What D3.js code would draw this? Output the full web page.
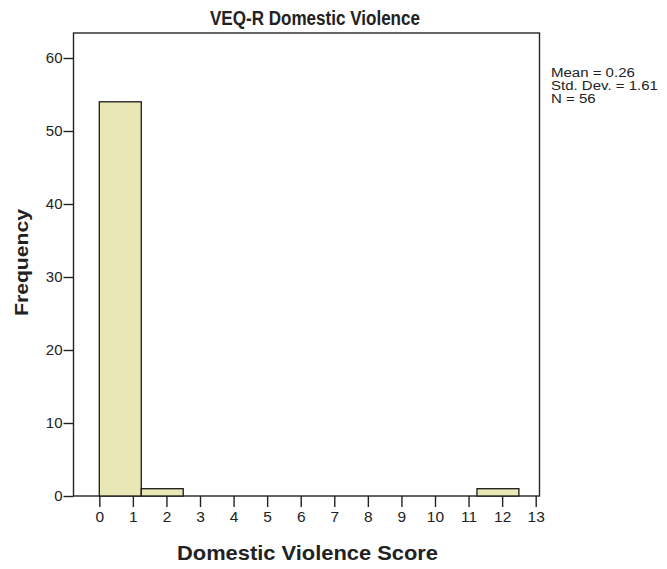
<!DOCTYPE html>
<html>
<head>
<meta charset="utf-8">
<script src="https://cdn.jsdelivr.net/npm/d3@7"></script>
<style>
  body { margin: 0; background: #fff; }
  text { font-family: Arial, "Liberation Sans", sans-serif; fill: #222; }
</style>
</head>
<body>
<script>
// histogram bins (edges) and counts
const binStart = [0, 1.25, 11.25]
const binEnd = [1.25, 2.5, 12.5]
const counts = [54, 1, 1]
const xTicks = d3.range(0, 14)
const yTicks = [0, 10, 20, 30, 40, 50, 60]
const stats = ["Mean = 0.26", "Std. Dev. = 1.61", "N = 56"]

const width = 667
const height = 569
const frame = { left: 73.5, top: 33, right: 539.5, bottom: 496 }

let svg = d3.select("body").append("svg")
    .attr("width", width)
    .attr("height", height)

let x = d3.scaleLinear().domain([0, 13]).range([99.3, 535.7])
let y = d3.scaleLinear().domain([0, 60]).range([frame.bottom, 58])

// frame
svg.append("rect")
    .attr("x", frame.left).attr("y", frame.top)
    .attr("width", frame.right - frame.left)
    .attr("height", frame.bottom - frame.top)
    .attr("fill", "none")
    .attr("stroke", "#2a2228")
    .attr("stroke-width", 1.4)

// bars
svg.append("g").selectAll("rect")
    .data(counts).enter()
    .append("rect")
        .attr("x", (d, i) => x(binStart[i]))
        .attr("width", (d, i) => x(binEnd[i]) - x(binStart[i]))
        .attr("y", d => y(d))
        .attr("height", d => y(0) - y(d))
        .attr("fill", "#eae7b6")
        .attr("stroke", "#1a1a1a")
        .attr("stroke-width", 1.3)

// y axis
let yAxis = svg.append("g")
    .attr("transform", "translate(" + frame.left + ",0)")
    .call(d3.axisLeft(y).tickValues(yTicks).tickSize(10).tickPadding(1))
yAxis.select(".domain").remove()
yAxis.selectAll("line").attr("stroke", "#222").attr("stroke-width", 1.4)
yAxis.selectAll("text").style("font-size", "15px").attr("fill", "#222")

// x axis
let xAxis = svg.append("g")
    .attr("transform", "translate(0," + frame.bottom + ")")
    .call(d3.axisBottom(x).tickValues(xTicks).tickSize(11).tickPadding(4))
xAxis.select(".domain").remove()
xAxis.selectAll("line").attr("stroke", "#222").attr("stroke-width", 1.4)
xAxis.selectAll("text").style("font-size", "15.5px").attr("fill", "#222")

// titles
svg.append("text")
    .attr("x", 210).attr("y", 25)
    .attr("textLength", 210)
    .attr("lengthAdjust", "spacingAndGlyphs")
    .style("font-size", "20px").style("font-weight", "bold")
    .text("VEQ-R Domestic Violence")

svg.append("text")
    .attr("x", 177).attr("y", 560)
    .attr("textLength", 261)
    .attr("lengthAdjust", "spacingAndGlyphs")
    .style("font-size", "20.5px").style("font-weight", "bold")
    .text("Domestic Violence Score")

svg.append("text")
    .attr("transform", "translate(28,316) rotate(-90)")
    .attr("textLength", 107)
    .attr("lengthAdjust", "spacingAndGlyphs")
    .style("font-size", "19px").style("font-weight", "bold")
    .text("Frequency")

// stats box - stretched a bit so the widths match, tight line spacing
svg.append("g").selectAll("text")
    .data(stats).enter()
    .append("text")
        .attr("x", 551)
        .attr("y", (d, i) => 77 + i * 12.8)
        .style("font-size", "12px")
        .text(d => d)
        .each(function () {
            let w = this.getComputedTextLength()
            d3.select(this).attr("textLength", w * 1.25).attr("lengthAdjust", "spacingAndGlyphs")
        })
</script>
</body>
</html>
